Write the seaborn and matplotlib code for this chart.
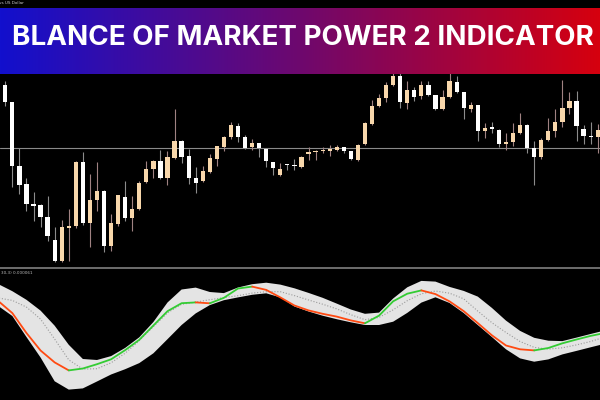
import numpy as np
import pandas as pd
import matplotlib
matplotlib.use("Agg")
import matplotlib.pyplot as plt
import seaborn as sns
from matplotlib.lines import Line2D

sns.set_theme(style="dark", rc={"figure.facecolor": "black", "axes.facecolor": "black",
                                "savefig.facecolor": "black"})
plt.rcParams['font.family'] = ['DejaVu Sans']

# ---------------- data ----------------
bar_index = list(range(-1, 85))
opens = [196, 183, 165.7, 101.7, 84, 64, 63, 51.3, 28.3, 7.3, 40, 42.3, 105.7, 45, 68, 76.7, 21.7, 44, 71.3, 49.7,
         59, 85.7, 99, 106.7, 90, 110, 127.3, 111.7, 90, 86.7, 96, 109, 121.3, 130.7, 141.7, 130.7, 120.7, 125, 119, 105.7,
         93, 104, 103.3, 101.3, 114.3, 116, 116.7, 117.3, 118, 120.7, 117.3, 108.3, 124, 144, 161.7, 169.7, 183, 192, 164.7, 178.3,
         172.3, 183, 173.3, 158.7, 171.3, 185.7, 175.7, 159, 163, 136.7, 140.7, 138.3, 124, 126.3, 134.7, 143.3, 120, 111.3, 128, 136.7,
         145.7, 160, 167.3, 139, 132.3, 130.7]
highs = [200, 186.7, 166, 120, 90, 76, 64, 72, 40.7, 48.3, 59, 106.7, 116.3, 94, 105.7, 78, 54, 73.5, 86.7, 71.7,
         86.7, 107.3, 108, 118, 117.3, 159, 128.5, 119, 100.7, 102.3, 114, 122, 132.3, 146.3, 144.7, 133.3, 129, 125.5, 119.5, 106.5,
         104.7, 104.5, 108.7, 111.7, 121.3, 117.7, 120.7, 123.3, 123.3, 121, 117.5, 124, 145.7, 168, 174, 185.7, 203, 202, 187.3, 180.7,
         187.3, 186.7, 173.5, 178, 198, 192.3, 176, 165.7, 163.5, 144.7, 145.7, 139, 134.7, 144.7, 154.7, 144, 127.3, 129.7, 149.7, 159,
         188, 175.7, 177.3, 143.3, 145.7, 144]
lows = [181, 162.3, 81, 74, 57, 47.3, 40.7, 27.3, 5.7, 5.7, 7.3, 40, 43, 20.7, 57.3, 15.7, 17.3, 42, 47.3, 37.3,
        58.5, 84.7, 90, 89, 83, 109.5, 104.7, 84, 74.7, 86, 95, 102.3, 116.7, 129, 126.3, 119, 118, 111.3, 100.7, 93,
        92.5, 98.3, 98, 99.7, 108, 108, 114.7, 112.3, 117.5, 115, 108.5, 106.7, 123.3, 143.5, 160.7, 166.3, 182, 160, 159, 167.3,
        169, 172.3, 158.5, 158.5, 170.5, 175, 149, 156.3, 127.3, 129.7, 134.7, 121, 118, 122.3, 134, 114.7, 83.3, 109, 127.5, 130.7,
        140.7, 154, 127.3, 124, 124, 114.7]
closes = [183, 165.7, 101.7, 83, 64, 62.3, 51.3, 32.3, 7.3, 40.7, 42.3, 105.7, 45, 68, 76.7, 21.7, 44.7, 73, 49.7, 59,
          85, 99, 107.3, 89.7, 110.7, 127.3, 110.7, 89.7, 85, 97.3, 110, 121.7, 130.7, 143.3, 130.7, 120, 125, 119.7, 106.7, 100,
          99, 103, 102.3, 110.7, 116, 117, 117.7, 118.7, 121.3, 117.3, 109, 123, 145, 161.7, 170, 183, 192.3, 165.7, 178, 171.3,
          183, 173.3, 158.7, 170.7, 186.7, 175.7, 160, 163.3, 136.7, 140, 139, 124, 126.3, 134.7, 143, 120, 111.3, 128, 136.7, 145.7,
          160, 166.7, 141.7, 132.3, 130.7, 138]
level_price = 120.5

ind_bars = list(range(-1, 86, 2))
bop_signal = [34.0, 21.9, 2.0, -15.5, -27.4, -35.4, -33.5, -29.2, -24.3, -15.1, -4.8, 9.5, 23.8, 31.8, 32.6, 31.7,
              37.2, 46.5, 48.4, 45.1, 37.6, 29.5, 24.6, 21.2, 18.4, 14.6, 11.7, 19.4, 33.7, 41.3, 44.6, 40.9,
              33.6, 23.9, 11.9, -0.3, -10.5, -14.3, -15.4, -13.0, -8.3, -4.5, -0.9, 2.0]
band_upper = [50.9, 43.8, 35.2, 24.4, 9.3, -9.8, -24.0, -25.0, -21.1, -12.9, -2.3, 13.0, 32.5, 45.5, 47.4, 43.0,
              41.9, 47.5, 50.8, 52.3, 50.4, 46.7, 42.1, 37.2, 31.4, 25.5, 21.2, 22.4, 36.5, 47.7, 54.1, 53.4,
              48.1, 44.1, 38.4, 27.1, 14.4, 4.1, -2.8, -5.7, -6.1, -2.6, 1.0, 4.5]
band_lower = [29.0, 19.0, -2.0, -22.5, -46.3, -54.6, -53.4, -46.5, -39.5, -34.2, -28.1, -18.3, -4.2, 10.0, 21.6, 29.9,
              34.8, 37.6, 40.2, 41.7, 37.6, 28.5, 23.5, 19.3, 15.8, 12.7, 10.0, 10.0, 13.3, 22.1, 32.4, 37.7,
              32.0, 22.0, 10.0, -2.0, -14.3, -23.4, -26.7, -24.4, -19.4, -15.9, -12.3, -8.8]
band_mid = [37.0, 34.6, 27.9, 15.9, -4.1, -24.9, -34.1, -33.7, -27.8, -18.2, -5.7, 8.4, 22.2, 30.7, 32.9, 35.3,
            37.4, 39.3, 41.9, 43.3, 43.3, 39.4, 35.0, 30.8, 26.1, 20.3, 15.3, 17.6, 25.2, 34.3, 41.2, 44.0,
            41.8, 36.2, 23.9, 12.3, 2.5, -6.5, -12.4, -14.1, -12.8, -9.9, -6.5, -2.0]

title_text = "BLANCE OF MARKET POWER 2 INDICATOR"
symbol_text = "vs US Dollar"
ind_label = "30,3) 0.000061"

# ---------------- layout ----------------
W, H = 600, 400
fig = plt.figure(figsize=(6, 4), dpi=100)


def fig_rect(x0, y0, x1, y1):
    return [x0 / W, 1 - y1 / H, (x1 - x0) / W, (y1 - y0) / H]


ax = fig.add_axes(fig_rect(0, 0, 600, 267))
ax2 = fig.add_axes(fig_rect(0, 268, 600, 400), sharex=ax)
for a in (ax, ax2):
    a.set_facecolor("black")
    a.set_xticks([])
    a.set_yticks([])
    for s in a.spines.values():
        s.set_visible(False)
    a.grid(False)

# ---------------- candles ----------------
df = pd.DataFrame(dict(bar=bar_index, open=opens, high=highs, low=lows, close=closes))
df["bull"] = df["close"] >= df["open"]
df["body_lo"] = df[["open", "close"]].min(axis=1)
df["body_h"] = (df["close"] - df["open"]).abs().clip(lower=1.2)
styles = {True: ("#f8d7ab", "#a08282"), False: ("#ffffff", "#8c8c8c")}
ax.axhline(level_price, color="#8a8a8a", lw=0.8, zorder=1)
for bull, g in df.groupby("bull"):
    body, wick = styles[bool(bull)]
    ax.vlines(g["bar"], g["low"], g["high"], color=wick, lw=0.8, zorder=2)
    ax.bar(g["bar"], g["body_h"], bottom=g["body_lo"], width=0.6, color=body, lw=0, zorder=3)
ax.set_xlim(-0.752, 84.33)
ax.set_ylim(1, 268)

# ---------------- indicator ----------------
xb = np.array(ind_bars, dtype=float)
sig = np.array(bop_signal)
ax2.fill_between(xb, band_lower, band_upper, color="#e4e4e4", lw=0, zorder=1)
sns.lineplot(x=xb, y=band_mid, ax=ax2, color="#9a9a9a", linewidth=0.8, linestyle=(0, (1, 1.6)), zorder=2)
rising = np.diff(sig) > 0
start = 0
for k in range(1, len(rising) + 1):
    if k == len(rising) or rising[k] != rising[start]:
        col = "#33cc33" if rising[start] else "#ff4a12"
        sns.lineplot(x=xb[start:k + 1], y=sig[start:k + 1], ax=ax2, color=col, linewidth=1.3, zorder=3)
        start = k
ax2.set_ylim(-65, 67)
ax2.set_xlim(-0.752, 84.33)
ax2.text(0.002, 0.965, ind_label, transform=ax2.transAxes, fontsize=3, color="#bbbbbb",
         va="center", ha="left")

# separator between panels
fig.add_artist(Line2D([0, 1], [1 - 267.5 / H] * 2, color="#808080", lw=1.2))

# small symbol text top-left
fig.text(-1 / W, 1 - 3.5 / H, symbol_text, fontsize=3, color="#c8c8c8", va="center", ha="left")

# ---------------- banner ----------------
bax = fig.add_axes(fig_rect(0, 8, 600, 74))
g = np.linspace(0, 1, 512)
left = np.array([18, 16, 205]) / 255
mid = np.array([110, 8, 110]) / 255
right = np.array([214, 0, 14]) / 255
img = np.where(g[:, None] < 0.5,
               left[None, :] * (1 - 2 * g[:, None]) + mid[None, :] * (2 * g[:, None]),
               mid[None, :] * (2 - 2 * g[:, None]) + right[None, :] * (2 * g[:, None] - 1))
bax.imshow(img[None, :, :], aspect="auto", extent=[0, 1, 0, 1])
bax.set_xlim(0, 1)
bax.set_ylim(0, 1)
bax.set_axis_off()
t = bax.text(12 / W, (74 - 45) / 66, title_text, color="white", fontsize=20, fontweight="bold",
             family=["Inter", "Open Sans", "DejaVu Sans"], ha="left", va="baseline")
fig.canvas.draw()
bb = t.get_window_extent()
t.set_fontsize(20 * 582 / bb.width)

fig.savefig("out.png", dpi=100, facecolor="black")
